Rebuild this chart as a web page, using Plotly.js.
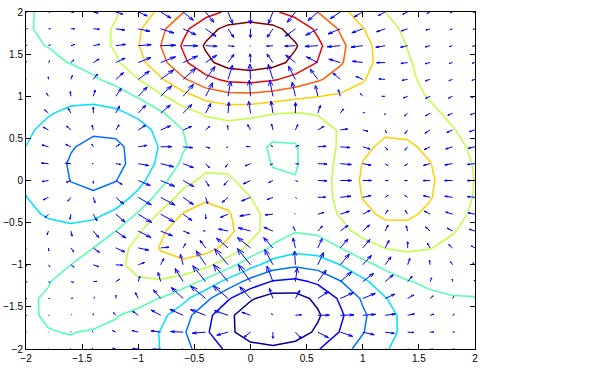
<!DOCTYPE html>
<html><head><meta charset="utf-8">
<script src="https://cdn.plot.ly/plotly-3.0.1.min.js"></script>
<style>html,body{margin:0;padding:0;background:#fff}#plot{width:598px;height:371px}</style>
</head><body><div id="plot"></div>
<script>
// Grid (meshgrid -2:0.2:2)
const xGrid = [-2.0,-1.8,-1.6,-1.4,-1.2,-1.0,-0.8,-0.6,-0.4,-0.2,0.0,0.2,0.4,0.6,0.8,1.0,1.2,1.4,1.6,1.8,2.0];
const yGrid = [-2.0,-1.8,-1.6,-1.4,-1.2,-1.0,-0.8,-0.6,-0.4,-0.2,0.0,0.2,0.4,0.6,0.8,1.0,1.2,1.4,1.6,1.8,2.0];

// Surface values, one row per y (bottom to top)
const zY_m20 = [0.05,0.07,0.07,0.00,-0.19,-0.59,-1.24,-2.14,-3.15,-4.10,-4.76,-4.96,-4.66,-3.95,-3.03,-2.10,-1.31,-0.74,-0.37,-0.16,-0.06];
const zY_m18 = [0.07,0.11,0.13,0.09,-0.09,-0.52,-1.28,-2.38,-3.67,-4.92,-5.82,-6.15,-5.83,-4.96,-3.80,-2.61,-1.60,-0.87,-0.41,-0.17,-0.05];
const zY_m16 = [0.08,0.15,0.22,0.27,0.18,-0.16,-0.87,-1.99,-3.42,-4.88,-6.02,-6.53,-6.28,-5.37,-4.09,-2.75,-1.63,-0.83,-0.34,-0.10,0.00];
const zY_m14 = [0.07,0.16,0.31,0.48,0.59,0.51,0.07,-0.85,-2.20,-3.72,-5.04,-5.76,-5.70,-4.91,-3.68,-2.37,-1.27,-0.52,-0.10,0.07,0.10];
const zY_m12 = [0.01,0.10,0.30,0.62,1.00,1.30,1.30,0.81,-0.23,-1.65,-3.04,-3.98,-4.18,-3.64,-2.61,-1.47,-0.53,0.06,0.32,0.35,0.27];
const zY_m10 = [-0.13,-0.08,0.12,0.53,1.15,1.86,2.38,2.44,1.84,0.66,-0.72,-1.83,-2.28,-1.99,-1.20,-0.27,0.45,0.83,0.87,0.72,0.50];
const zY_m08 = [-0.36,-0.41,-0.29,0.12,0.87,1.88,2.87,3.44,3.29,2.40,1.09,-0.09,-0.68,-0.54,0.12,0.91,1.48,1.65,1.49,1.13,0.76];
const zY_m06 = [-0.65,-0.85,-0.90,-0.62,0.12,1.28,2.56,3.52,3.74,3.11,1.93,0.78,0.19,0.36,1.05,1.85,2.35,2.40,2.07,1.54,1.01];
const zY_m04 = [-0.95,-1.34,-1.60,-1.51,-0.90,0.26,1.68,2.86,3.34,2.92,1.90,0.87,0.41,0.72,1.57,2.47,3.00,2.99,2.54,1.88,1.22];
const zY_m02 = [-1.19,-1.74,-2.20,-2.32,-1.88,-0.82,0.61,1.91,2.55,2.31,1.46,0.60,0.31,0.79,1.80,2.82,3.40,3.37,2.85,2.10,1.37];
const zY_p00 = [-1.33,-1.98,-2.57,-2.86,-2.58,-1.65,-0.29,1.02,1.75,1.66,0.98,0.29,0.16,0.77,1.87,2.94,3.53,3.49,2.95,2.17,1.41];
const zY_p02 = [-1.34,-2.01,-2.66,-3.03,-2.88,-2.10,-0.88,0.36,1.10,1.11,0.60,0.07,0.04,0.70,1.79,2.82,3.39,3.35,2.82,2.08,1.35];
const zY_p04 = [-1.22,-1.84,-2.46,-2.84,-2.77,-2.14,-1.09,0.00,0.70,0.78,0.41,0.01,0.05,0.66,1.63,2.53,3.03,2.98,2.51,1.84,1.20];
const zY_p06 = [-1.01,-1.53,-2.04,-2.36,-2.29,-1.74,-0.84,0.13,0.78,0.93,0.69,0.39,0.41,0.85,1.58,2.25,2.59,2.50,2.08,1.52,0.99];
const zY_p08 = [-0.75,-1.12,-1.47,-1.64,-1.48,-0.92,-0.04,0.91,1.62,1.89,1.78,1.53,1.41,1.56,1.89,2.18,2.27,2.08,1.68,1.20,0.77];
const zY_p10 = [-0.48,-0.69,-0.85,-0.82,-0.48,0.23,1.23,2.31,3.19,3.66,3.69,3.43,3.08,2.81,2.62,2.43,2.17,1.80,1.36,0.93,0.58];
const zY_p12 = [-0.25,-0.31,-0.28,-0.04,0.51,1.43,2.63,3.93,5.04,5.73,5.89,5.59,4.99,4.27,3.55,2.86,2.23,1.65,1.15,0.74,0.44];
const zY_p14 = [-0.07,-0.03,0.15,0.55,1.26,2.34,3.70,5.17,6.46,7.31,7.57,7.23,6.43,5.38,4.25,3.20,2.29,1.56,1.00,0.60,0.33];
const zY_p16 = [0.03,0.14,0.38,0.85,1.63,2.73,4.11,5.59,6.91,7.80,8.10,7.76,6.89,5.71,4.42,3.21,2.19,1.41,0.85,0.48,0.26];
const zY_p18 = [0.08,0.20,0.45,0.90,1.60,2.60,3.82,5.13,6.30,7.12,7.40,7.10,6.30,5.19,3.97,2.84,1.89,1.18,0.69,0.37,0.19];
const zY_p20 = [0.08,0.19,0.40,0.76,1.32,2.10,3.05,4.07,4.99,5.63,5.86,5.62,4.99,4.10,3.12,2.21,1.45,0.89,0.51,0.27,0.13];

const xTicks = [-2,-1.5,-1,-0.5,0,0.5,1,1.5,2];
const yTicks = [-2,-1.5,-1,-0.5,0,0.5,1,1.5,2];

// style: jet colours for the 10 contour levels
const levelColors = ['rgb(0,0,143)','rgb(0,0,255)','rgb(0,112,255)','rgb(0,223,255)','rgb(80,255,175)',
                     'rgb(191,255,64)','rgb(255,207,0)','rgb(255,96,0)','rgb(239,0,0)','rgb(128,0,0)'];

const Z = [zY_m20,zY_m18,zY_m16,zY_m14,zY_m12,zY_m10,zY_m08,zY_m06,zY_m04,zY_m02,zY_p00,
           zY_p02,zY_p04,zY_p06,zY_p08,zY_p10,zY_p12,zY_p14,zY_p16,zY_p18,zY_p20];

// automatic contour levels (10 levels evenly between min and max, like contourc)
let zmin=Infinity,zmax=-Infinity;
Z.forEach(r=>r.forEach(v=>{if(v<zmin)zmin=v;if(v>zmax)zmax=v;}));
const nLev = levelColors.length;
const traces = [];
for(let k=1;k<=nLev;k++){
  const lev = zmin + k*(zmax-zmin)/(nLev+1);
  traces.push({type:'contour', x:xGrid, y:yGrid, z:Z, autocontour:false,
    contours:{start:lev,end:lev,size:1,coloring:'none',showlabels:false},
    line:{color:levelColors[k-1],width:1.5,smoothing:0},
    showscale:false, hoverinfo:'skip'});
}

// gradient (central differences inside, one-sided at the border)
const ny=yGrid.length,nx=xGrid.length;
const U=[],V=[];
for(let i=0;i<ny;i++){U.push([]);V.push([]);
  for(let j=0;j<nx;j++){
    let du,dv;
    if(j===0) du=(Z[i][1]-Z[i][0])/(xGrid[1]-xGrid[0]);
    else if(j===nx-1) du=(Z[i][nx-1]-Z[i][nx-2])/(xGrid[nx-1]-xGrid[nx-2]);
    else du=(Z[i][j+1]-Z[i][j-1])/(xGrid[j+1]-xGrid[j-1]);
    if(i===0) dv=(Z[1][j]-Z[0][j])/(yGrid[1]-yGrid[0]);
    else if(i===ny-1) dv=(Z[ny-1][j]-Z[ny-2][j])/(yGrid[ny-1]-yGrid[ny-2]);
    else dv=(Z[i+1][j]-Z[i-1][j])/(yGrid[i+1]-yGrid[i-1]);
    U[i].push(du);V[i].push(dv);
  }}
// quiver autoscale
const delx=(xGrid[nx-1]-xGrid[0])/nx, dely=(yGrid[ny-1]-yGrid[0])/ny, del=delx*delx+dely*dely;
let maxlen=0;
for(let i=0;i<ny;i++)for(let j=0;j<nx;j++){const l=Math.sqrt((U[i][j]*U[i][j]+V[i][j]*V[i][j])/del);if(l>maxlen)maxlen=l;}
const sc=0.9/maxlen, alpha=0.33, beta=0.33, eps=2.2e-16;
const qx=[],qy=[];
for(let i=0;i<ny;i++)for(let j=0;j<nx;j++){
  const x0=xGrid[j],y0=yGrid[i],u=U[i][j]*sc,v=V[i][j]*sc;
  qx.push(x0,x0+u,null); qy.push(y0,y0+v,null);
  qx.push(x0+u-alpha*(u+beta*(v+eps)), x0+u, x0+u-alpha*(u-beta*(v+eps)), null);
  qy.push(y0+v-alpha*(v-beta*(u+eps)), y0+v, y0+v-alpha*(v+beta*(u+eps)), null);
}
traces.push({type:'scatter',mode:'lines',x:qx,y:qy,line:{color:'rgb(0,0,255)',width:1},hoverinfo:'skip',connectgaps:false});

const axisBase={showline:true,linecolor:'#000',linewidth:1,mirror:'ticks',ticks:'inside',ticklen:5,tickcolor:'#000',tickwidth:1,
  showgrid:false,zeroline:false,tickmode:'array',tickfont:{family:'Liberation Sans, Arial, sans-serif',size:10,color:'#000'},fixedrange:true};
const layout={width:598,height:371,margin:{l:26,r:123,t:12,b:22,pad:0},paper_bgcolor:'#fff',plot_bgcolor:'#fff',showlegend:false,hovermode:false,
  xaxis:Object.assign({},axisBase,{range:[-2,2],tickvals:xTicks,ticktext:xTicks.map(v=>(v<0?'\u2212':'')+Math.abs(v))}),
  yaxis:Object.assign({},axisBase,{range:[-2,2],tickvals:yTicks,ticktext:yTicks.map(v=>(v<0?'\u2212':'')+Math.abs(v))})};
Plotly.newPlot('plot',traces,layout,{staticPlot:true,displayModeBar:false});
</script></body></html>
